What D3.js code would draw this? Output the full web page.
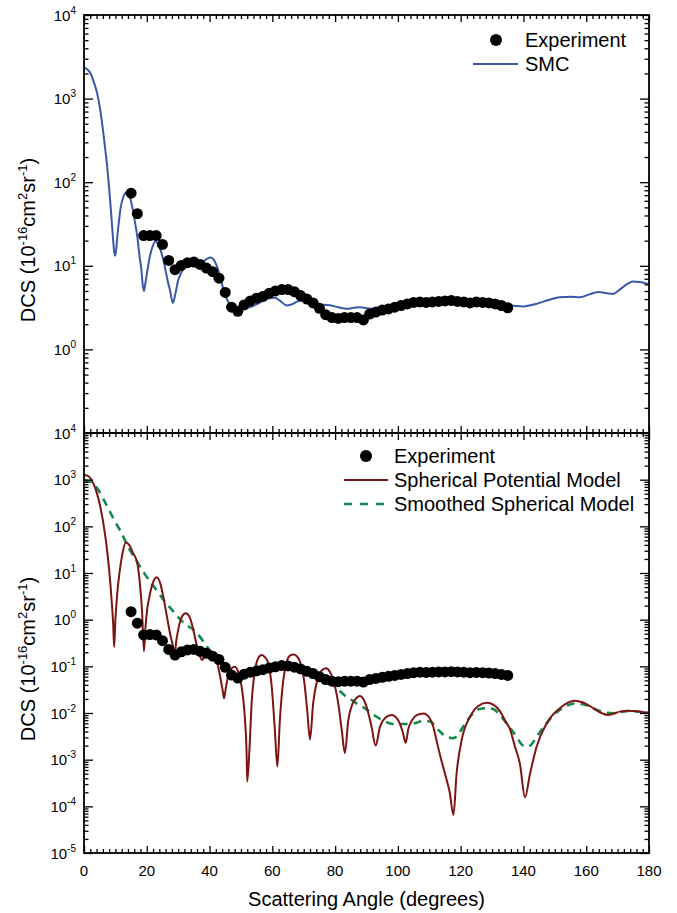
<!DOCTYPE html>
<html><head><meta charset="utf-8">
<script src="https://cdn.jsdelivr.net/npm/d3@7"></script>
<style>body{margin:0;background:#fff} svg{display:block;font-family:"Liberation Sans",Arial,sans-serif}</style>
</head><body><svg id="c" width="677" height="913"></svg>
<script>
// ---------- DATA ----------
const expAngle = [15,17,19,21,23,25,27,29,31,33,35,37,39,41,43,45,47,49,51,53,55,57,59,61,63,65,67,69,71,73,75,77,79,81,83,85,87,89,91,93,95,97,99,101,103,105,107,109,111,113,115,117,119,121,123,125,127,129,131,133,135];
const expTop = [74,42,23,23,23,18,11.6,9.0,10.1,10.9,11.1,10.4,9.4,8.5,7.1,4.8,3.2,2.85,3.4,3.8,4.1,4.3,4.7,5.0,5.2,5.2,4.9,4.4,4.0,3.6,3.1,2.6,2.4,2.35,2.4,2.4,2.4,2.25,2.65,2.8,2.95,3.05,3.2,3.35,3.5,3.65,3.7,3.65,3.7,3.75,3.8,3.85,3.75,3.7,3.6,3.7,3.65,3.6,3.5,3.35,3.15];
const expBottom = [1.48,0.84,0.47,0.48,0.47,0.355,0.23,0.175,0.205,0.225,0.23,0.21,0.19,0.165,0.14,0.095,0.065,0.056,0.068,0.075,0.08,0.085,0.092,0.098,0.104,0.102,0.096,0.088,0.078,0.07,0.06,0.052,0.048,0.047,0.048,0.048,0.048,0.046,0.052,0.055,0.058,0.061,0.064,0.067,0.07,0.073,0.075,0.074,0.075,0.076,0.076,0.077,0.076,0.075,0.073,0.074,0.073,0.072,0.07,0.067,0.064];

const smcAngle = [0,1,2.1,3.2,4.2,5,5.8,6.6,7.4,8,8.5,9,9.3,9.6,9.9,10.2,10.6,11.2,11.7,12.5,13.6,14.5,15.4,16.2,17,17.7,18.3,18.7,19.1,19.5,20.2,21,21.8,22.8,23.6,24.4,25.2,26,26.7,27.4,28.3,29.1,30,31,32,33.5,35,36.5,38,39.3,40.3,41.2,42.2,43.2,44.2,45.2,46.3,47.5,49,51,53,55,57,59,60.8,62.5,64.6,66.5,68.5,70.5,72.5,75,78.4,81,83.7,86,88,90,93,96,100,104,108,112,116,120,124,128,132,135.7,140,144,148,151.6,155,158,161,164,166.5,168.5,171,173.5,175,177,180];
const smcValue = [2350,2250,2000,1550,1150,800,500,280,152,85,50,28,20,15,13.2,15,22,36,50,66,76,68,50,34,22,13,8.8,6,5.0,6,8.8,13,16.8,19.5,18,15.4,12,8.8,6.5,5.1,3.6,4.6,6.7,8.3,9.6,10.6,10.8,10.8,11.3,12.2,12.6,12,10.2,7.8,5.6,4.3,3.5,3.15,3.05,3.1,3.2,3.45,3.8,4.1,4.15,3.8,3.35,3.5,3.8,3.8,3.55,3.45,3.37,3.2,3.07,3.15,3.2,3.1,3.05,3.15,3.25,3.3,3.4,3.45,3.5,3.45,3.4,3.35,3.3,3.35,3.27,3.5,3.9,4.2,4.25,4.2,4.55,4.85,4.7,4.6,5.3,6.2,6.5,6.4,6.0];

const sphAngle = [0,1,2,3,4,5,6,7,8,8.8,9.3,9.6,10.0,10.6,11.3,12.2,13.3,14.4,15.5,17,17.8,18.5,19.1,19.6,20.2,20.8,21.8,23.2,24.3,25.3,26.3,27.3,28.2,28.9,29.4,30.2,31.2,32.4,33.6,34.6,35.6,36.7,37.7,38.4,39.3,40.5,41.7,42.7,43.6,44.2,44.6,45.2,46,47,48,49,50.2,51.3,51.8,52,52.7,53.4,54.5,55.5,56.6,57.7,58.7,59.8,60.8,61.6,62.4,63.5,64.6,65.6,66.7,67.8,68.8,70.1,71.1,72,73,74.3,75.6,77.1,78.4,79.4,81,82.1,83.1,84.2,85.6,86.8,87.9,89,90,91.6,92.9,94.3,95.9,98,100.1,101.5,102.5,103.3,104.5,106,108.2,110,111.3,112.3,113.5,115,116.5,117.7,118.7,120.3,123,125.5,128.3,130.5,132.5,134.2,135.7,137.2,138.9,140.5,142.1,144.2,147.4,151.6,154,156.4,158.8,161.2,165,167,168.8,170.7,173.4,177.1,180];
const sphValue = [1260,1220,1080,820,540,300,135,48,12,2.6,0.8,0.26,1.0,3.7,10,25,45,40,28,16,6,1.5,0.21,0.7,1.8,3,5.8,8.1,6,3,1.3,0.55,0.3,0.19,0.35,0.7,1.15,1.37,1.15,0.7,0.35,0.18,0.137,0.17,0.2,0.21,0.17,0.1,0.05,0.03,0.0206,0.035,0.065,0.09,0.098,0.08,0.037,0.007,0.0014,0.00034,0.0016,0.016,0.083,0.15,0.175,0.155,0.116,0.037,0.0044,0.00071,0.007,0.051,0.126,0.17,0.18,0.165,0.126,0.051,0.0116,0.0027,0.016,0.051,0.08,0.091,0.075,0.051,0.016,0.0044,0.00138,0.007,0.016,0.021,0.023,0.02,0.0138,0.0051,0.002,0.0051,0.0078,0.0091,0.007,0.004,0.0023,0.0045,0.007,0.009,0.0098,0.008,0.005,0.0026,0.0012,0.0005,0.0002,0.000065,0.0005,0.0026,0.0083,0.014,0.0166,0.015,0.011,0.0068,0.0045,0.002,0.0008,0.000156,0.0005,0.0019,0.006,0.0127,0.0165,0.0184,0.017,0.014,0.0099,0.0091,0.0097,0.0107,0.0112,0.0107,0.0102];

const smoAngle = [0,2,4.2,6.9,9.6,11.7,14.3,17,19.6,22.3,25.5,28.1,31.9,35.6,38.8,41,43,45,47,49,52,56,60,64,68,72,75,78,80.5,83,85.3,87.5,89.5,91.5,93.2,95.5,98.5,101,103.9,106,108,110.2,113.4,115.5,117.7,119.3,120.8,124,126,128.3,130.5,132.5,135,137.8,139.5,141,142.5,144.2,147.4,149.5,151.6,154,156.4,158.8,161.2,163,165,168.6,171,173.5,176,180];
const smoValue = [980,900,650,310,137,77,34,17,9,5.1,2.6,1.6,0.84,0.55,0.29,0.18,0.14,0.095,0.066,0.057,0.07,0.08,0.09,0.095,0.088,0.07,0.058,0.045,0.034,0.024,0.019,0.015,0.0126,0.01,0.0083,0.0068,0.0058,0.0058,0.0058,0.0062,0.0068,0.0066,0.004,0.0031,0.0029,0.0035,0.0051,0.0099,0.0122,0.0127,0.012,0.0091,0.0055,0.0031,0.0021,0.0019,0.0021,0.0031,0.006,0.009,0.0116,0.0145,0.016,0.0155,0.014,0.012,0.0107,0.0099,0.0105,0.011,0.0108,0.0102];

const xTicks = [0,20,40,60,80,100,120,140,160,180];
const topDecades = [0,1,2,3,4];
const bottomDecades = [-5,-4,-3,-2,-1,0,1,2,3,4];

// ---------- LAYOUT ----------
const L = 84, R = 649;
const P1 = {top: 15, bot: 433, lo: -1, hi: 4};
const P2 = {top: 433, bot: 853, lo: -5, hi: 4};
const BLUE = "#3a58a8", RED = "#7d1416", GREEN = "#17894a";

const svg = d3.select("#c");
const x = d3.scaleLinear().domain([0, 180]).range([L, R]);
const y1 = d3.scaleLog().domain([Math.pow(10,P1.lo), Math.pow(10,P1.hi)]).range([P1.bot, P1.top]);
const y2 = d3.scaleLog().domain([Math.pow(10,P2.lo), Math.pow(10,P2.hi)]).range([P2.bot, P2.top]);

const defs = svg.append("defs");
[["clip1",P1],["clip2",P2]].forEach(([id,p]) => {
  defs.append("clipPath").attr("id", id).append("rect")
    .attr("x", L).attr("y", p.top).attr("width", R-L).attr("height", p.bot-p.top);
});

function logMinors(lo, hi) {
  const out = [];
  for (let d = lo; d < hi; d++) for (let k = 2; k <= 9; k++) out.push(k * Math.pow(10, d));
  return out;
}
const xMinor = d3.range(0, 181, 2).filter(v => v % 20 !== 0);

function axes(p, y) {
  const g = svg.append("g");
  const majY = d3.range(p.lo, p.hi + 1).map(d => Math.pow(10, d));
  const minY = logMinors(p.lo, p.hi);
  const add = (axis, tr) => {
    const a = g.append("g").attr("transform", tr).call(axis.tickFormat("").tickSizeOuter(0));
    a.select(".domain").remove();
    a.selectAll("line").attr("stroke", "#000").attr("stroke-width", 1.3);
  };
  add(d3.axisLeft(y).tickValues(majY).tickSizeInner(-9), `translate(${L},0)`);
  add(d3.axisLeft(y).tickValues(minY).tickSizeInner(-4.5), `translate(${L},0)`);
  add(d3.axisRight(y).tickValues(majY).tickSizeInner(-9), `translate(${R},0)`);
  add(d3.axisRight(y).tickValues(minY).tickSizeInner(-4.5), `translate(${R},0)`);
  add(d3.axisTop(x).tickValues(xTicks).tickSizeInner(-7), `translate(0,${p.top})`);
  add(d3.axisTop(x).tickValues(xMinor).tickSizeInner(-4), `translate(0,${p.top})`);
  add(d3.axisBottom(x).tickValues(xTicks).tickSizeInner(-7), `translate(0,${p.bot})`);
  add(d3.axisBottom(x).tickValues(xMinor).tickSizeInner(-4), `translate(0,${p.bot})`);
  g.append("rect").attr("x", L).attr("y", p.top).attr("width", R-L).attr("height", p.bot-p.top)
    .attr("fill", "none").attr("stroke", "#000").attr("stroke-width", 1.8);
}

function yLabels(decades, y) {
  decades.forEach(d => {
    const t = svg.append("text").attr("x", 76).attr("y", y(Math.pow(10, d)) + 5.5)
      .attr("text-anchor", "end").attr("font-size", 15).attr("fill", "#000");
    t.append("tspan").text("10");
    t.append("tspan").attr("dy", -7).attr("font-size", 10).text(d < 0 ? "-" + (-d) : String(d));
  });
}

function yTitle(cy) {
  const t = svg.append("text").attr("transform", `translate(35,${cy}) rotate(-90)`)
    .attr("text-anchor", "middle").attr("font-size", 20).attr("fill", "#000");
  t.append("tspan").text("DCS (10");
  t.append("tspan").attr("dy", -8).attr("font-size", 13).text("-16");
  t.append("tspan").attr("dy", 8).text("cm");
  t.append("tspan").attr("dy", -8).attr("font-size", 13).text("2");
  t.append("tspan").attr("dy", 8).text("sr");
  t.append("tspan").attr("dy", -8).attr("font-size", 13).text("-1");
  t.append("tspan").attr("dy", 8).text(")");
}

function line(y, ang, val) {
  return d3.line().x((d,i) => x(ang[i])).y((d,i) => y(val[i])).curve(d3.curveMonotoneX)(val);
}

// ---------- TOP PANEL ----------
const g1 = svg.append("g").attr("clip-path", "url(#clip1)");
g1.append("path").attr("d", line(y1, smcAngle, smcValue))
  .attr("fill", "none").attr("stroke", BLUE).attr("stroke-width", 2);
g1.selectAll("circle").data(expTop).join("circle")
  .attr("cx", (d,i) => x(expAngle[i])).attr("cy", d => y1(d)).attr("r", 5.5).attr("fill", "#000");

// ---------- BOTTOM PANEL ----------
const g2 = svg.append("g").attr("clip-path", "url(#clip2)");
g2.append("path").attr("d", line(y2, smoAngle, smoValue))
  .attr("fill", "none").attr("stroke", GREEN).attr("stroke-width", 2.6).attr("stroke-dasharray", "8,6");
g2.append("path").attr("d", line(y2, sphAngle, sphValue))
  .attr("fill", "none").attr("stroke", RED).attr("stroke-width", 2);
g2.selectAll("circle").data(expBottom).join("circle")
  .attr("cx", (d,i) => x(expAngle[i])).attr("cy", d => y2(d)).attr("r", 5.5).attr("fill", "#000");

axes(P1, y1);
axes(P2, y2);
yLabels(topDecades, y1);
yLabels(bottomDecades, y2);
yTitle(240);
yTitle(659);

// x tick labels
xTicks.forEach(v => {
  svg.append("text").attr("x", x(v)).attr("y", 876).attr("text-anchor", "middle")
    .attr("font-size", 15).attr("fill", "#000").text(v);
});
svg.append("text").attr("x", (L+R)/2).attr("y", 906).attr("text-anchor", "middle")
  .attr("font-size", 20).attr("fill", "#000").text("Scattering Angle (degrees)");

// ---------- LEGENDS ----------
const leg1 = svg.append("g").attr("font-size", 20).attr("fill", "#000");
leg1.append("circle").attr("cx", 496).attr("cy", 40).attr("r", 6).attr("fill", "#000");
leg1.append("text").attr("x", 525).attr("y", 47).text("Experiment");
leg1.append("line").attr("x1", 473).attr("x2", 518).attr("y1", 64).attr("y2", 64)
  .attr("stroke", BLUE).attr("stroke-width", 2);
leg1.append("text").attr("x", 525).attr("y", 71).text("SMC");

const leg2 = svg.append("g").attr("font-size", 20).attr("fill", "#000");
leg2.append("circle").attr("cx", 366).attr("cy", 456).attr("r", 6).attr("fill", "#000");
leg2.append("text").attr("x", 394).attr("y", 463).text("Experiment");
leg2.append("line").attr("x1", 344).attr("x2", 388).attr("y1", 480).attr("y2", 480)
  .attr("stroke", RED).attr("stroke-width", 2);
leg2.append("text").attr("x", 394).attr("y", 487).text("Spherical Potential Model");
leg2.append("line").attr("x1", 344).attr("x2", 388).attr("y1", 504).attr("y2", 504)
  .attr("stroke", GREEN).attr("stroke-width", 2.6).attr("stroke-dasharray", "8,8");
leg2.append("text").attr("x", 394).attr("y", 511).text("Smoothed Spherical Model");
</script></body></html>
